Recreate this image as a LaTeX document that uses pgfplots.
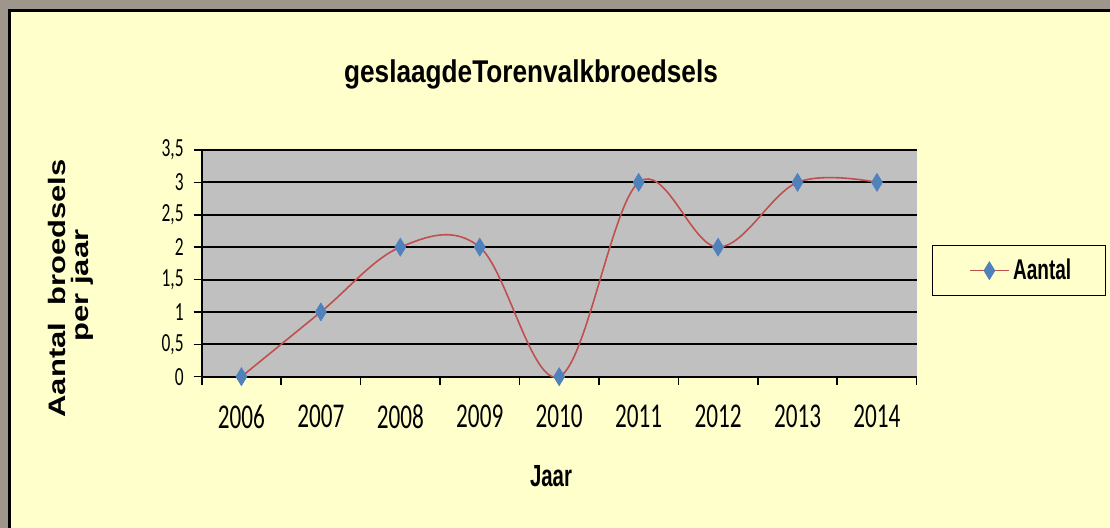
\documentclass[border=0pt]{standalone}
\usepackage{pgfplots}
\pgfplotsset{compat=1.18}
\usepackage{fontspec}
\setmainfont{Liberation Sans}
\newfontfamily\carlito{Carlito}
\definecolor{panel}{HTML}{FFFFCC}
\definecolor{frameout}{HTML}{9E958B}
\definecolor{plotgray}{HTML}{C0C0C0}
\definecolor{linered}{HTML}{C0504D}
\definecolor{markblue}{HTML}{4F81BD}
\newcommand\sy[1]{\scalebox{1}[1.5]{#1}}
\begin{document}
\begin{tikzpicture}[x=0.5pt,y=0.5pt]
\begin{scope}
\clip (0,0) rectangle (1110,528);
\fill[frameout] (0,0) rectangle (1110,528);
\filldraw[fill=panel, draw=black, line width=1.5pt] (9.5,-20) rectangle (1130,517);
\end{scope}
\useasboundingbox (0,0) rectangle (1110,528);
\node[font=\bfseries\fontsize{13.1}{14}\selectfont, anchor=base, inner sep=0pt] at (531,445) {\scalebox{1}[1.2]{geslaagdeTorenvalkbroedsels}};
\node[font=\bfseries\fontsize{10.2}{12}\selectfont, anchor=base, inner sep=0pt] at (551,41) {\sy{Jaar}};
\node[rotate=90, anchor=base, inner sep=0pt, font=\bfseries\fontsize{11.9}{12}\selectfont] at (65,239.5) {\scalebox{1.3}[1]{Aantal\ \ broedsels}};
\node[rotate=90, anchor=base, inner sep=0pt, font=\bfseries\fontsize{11.9}{12}\selectfont] at (88,242.5) {\scalebox{1.3}[1]{per jaar}};
\begin{axis}[
  at={(100.85pt,75.65pt)}, anchor=south west, scale only axis,
  width=357.5pt, height=113.35pt,
  xmin=-0.5, xmax=8.5, ymin=0, ymax=3.5,
  axis background/.style={fill=plotgray},
  xtick={-0.5,0.5,...,8.5}, x tick label as interval,
  xticklabels={\sy{2006},\sy{2007},\sy{2008},\sy{2009},\sy{2010},\sy{2011},\sy{2012},\sy{2013},\sy{2014}},
  ytick={0,0.5,...,3.5},
  yticklabels={\sy{0},\sy{0,5},\sy{1},\sy{1,5},\sy{2},\sy{2,5},\sy{3},\sy{3,5}},
  ymajorgrids, grid style={black, line width=1pt},
  axis x line*=bottom, axis y line*=left,
  axis line style={black, line width=1pt, -},
  tick align=outside, major tick length=4pt,
  tick style={black, line width=0.8pt},
  xticklabel style={font=\carlito\fontsize{11.6}{12}\selectfont, yshift=-6.5pt},
  yticklabel style={font=\carlito\fontsize{8.7}{10}\selectfont, xshift=-1.5pt},
  clip=false,
  legend style={at={(1,0.4676)}, anchor=west, xshift=7.65pt, draw=black, line width=0.6pt, fill=panel,
    inner xsep=15pt, inner ysep=4.5pt, font=\bfseries\fontsize{9.5}{10}\selectfont,
    /tikz/every even column/.append style={column sep=6.5pt}},
  legend cell align=left,
  legend image code/.code={\path (-3.5pt,0pt); \draw[mark repeat=2,mark phase=2,#1] plot coordinates {(0pt,0pt) (9.5pt,0pt) (19pt,0pt)};},
]
\addplot[linered, line width=0.8pt, smooth, tension=0.6, mark=diamond*, mark size=4.5pt,
  mark options={fill=markblue, draw=markblue, xscale=0.815, line width=0.3pt}]
  coordinates {(0,0) (1,1) (2,2) (3,2) (4,0) (5,3) (6,2) (7,3) (8,3)};
\addlegendentry{\sy{Aantal}}
\end{axis}
\end{tikzpicture}
\end{document}
